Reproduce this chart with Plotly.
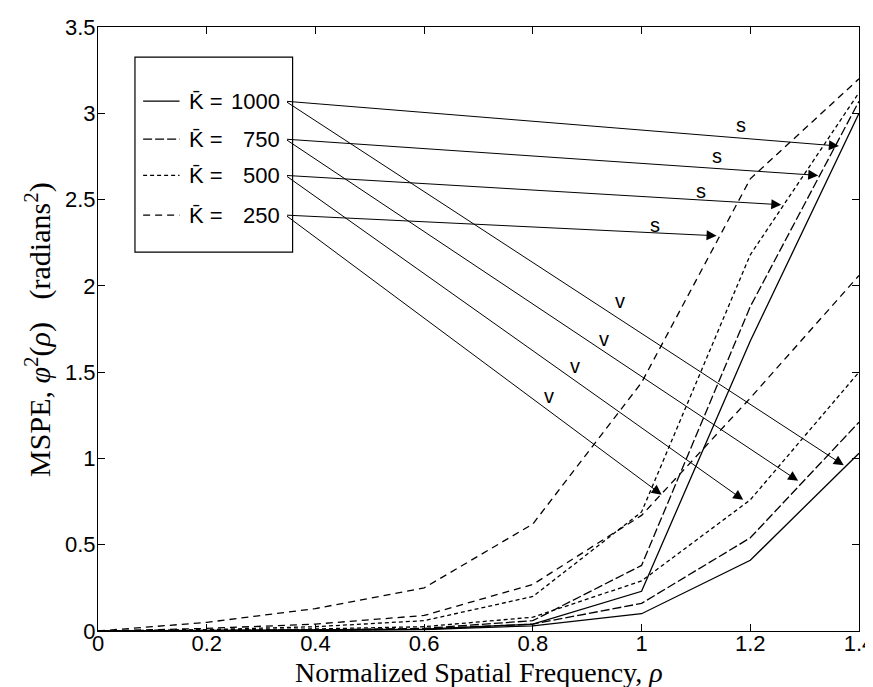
import plotly.graph_objects as go

# normalized spatial frequency samples
rho = [0, 0.2, 0.4, 0.6, 0.8, 1.0, 1.2, 1.4]

k_values = ['1000', '750', '500', '250']

# MSPE curves, "s" family (steep) and "v" family, one per K
s_1000 = [0, 0.002, 0.004, 0.010, 0.04, 0.23, 1.68, 3.00]
s_750 = [0, 0.003, 0.006, 0.015, 0.06, 0.38, 1.88, 3.07]
s_500 = [0, 0.008, 0.025, 0.060, 0.20, 0.69, 2.18, 3.12]
s_250 = [0, 0.050, 0.130, 0.250, 0.62, 1.44, 2.62, 3.20]

v_1000 = [0, 0.001, 0.003, 0.008, 0.03, 0.10, 0.41, 1.03]
v_750 = [0, 0.002, 0.005, 0.012, 0.04, 0.16, 0.54, 1.21]
v_500 = [0, 0.004, 0.012, 0.025, 0.08, 0.29, 0.76, 1.50]
v_250 = [0, 0.015, 0.040, 0.090, 0.27, 0.67, 1.35, 2.06]

# arrow tails (legend side) and heads on the curves
arrow_tail_x = 0.345
arrow_tail_y = [3.07, 2.85, 2.64, 2.41]
s_head_x = [1.363, 1.325, 1.257, 1.138]
s_head_y = [2.81, 2.64, 2.47, 2.29]
v_head_x = [1.372, 1.288, 1.187, 1.037]
v_head_y = [0.96, 0.87, 0.76, 0.79]
s_label_x = [1.182, 1.139, 1.110, 1.024]
s_label_y = [2.93, 2.75, 2.55, 2.35]
v_label_x = [0.960, 0.930, 0.877, 0.829]
v_label_y = [1.91, 1.69, 1.535, 1.36]

x_ticks = [0, 0.2, 0.4, 0.6, 0.8, 1.0, 1.2, 1.4]
x_tick_text = ['0', '0.2', '0.4', '0.6', '0.8', '1', '1.2', '1.4']
y_ticks = [0, 0.5, 1, 1.5, 2, 2.5, 3, 3.5]
y_tick_text = ['0', '0.5', '1', '1.5', '2', '2.5', '3', '3.5']

dashes = ['solid', '9px,3px', '4px,3px', '7px,5px']
s_curves = [s_1000, s_750, s_500, s_250]
v_curves = [v_1000, v_750, v_500, v_250]

SANS = 'Liberation Sans, Arial, Helvetica, sans-serif'
SERIF = 'Liberation Serif, Times New Roman, serif'

fig = go.Figure()
for k, dash, s, v in zip(k_values, dashes, s_curves, v_curves):
    for ys in (s, v):
        fig.add_trace(go.Scatter(
            x=rho, y=ys, mode='lines',
            line=dict(color='black', width=1.3, dash=dash),
            showlegend=False, name=k,
        ))

# legend box drawn by hand, Matlab style
fig.add_shape(type='rect', xref='x', yref='y', x0=0.068, x1=0.358, y0=2.196, y1=3.326,
              line=dict(color='black', width=1.2), fillcolor='white', layer='above')

annotations = []
for i, k in enumerate(k_values):
    yy = arrow_tail_y[i]
    fig.add_shape(type='line', xref='x', yref='y', x0=0.083, x1=0.150, y0=yy, y1=yy,
                  line=dict(color='black', width=1.3, dash=dashes[i]), layer='above')
    annotations.append(dict(x=0.163, y=yy, xref='x', yref='y', text='K\u0304 =',
                            showarrow=False, xanchor='left', yanchor='middle',
                            font=dict(family=SANS, size=22, color='black')))
    annotations.append(dict(x=0.339, y=yy, xref='x', yref='y', text=k,
                            showarrow=False, xanchor='right', yanchor='middle',
                            font=dict(family=SANS, size=22, color='black')))
    for hx, hy in ((s_head_x[i], s_head_y[i]), (v_head_x[i], v_head_y[i])):
        annotations.append(dict(x=hx, y=hy, ax=arrow_tail_x, ay=yy,
                                xref='x', yref='y', axref='x', ayref='y',
                                text='', showarrow=True, arrowhead=2, arrowsize=2,
                                arrowwidth=1, arrowcolor='black'))
    annotations.append(dict(x=s_label_x[i], y=s_label_y[i], xref='x', yref='y', text='s',
                            showarrow=False, font=dict(family=SANS, size=20, color='black')))
    annotations.append(dict(x=v_label_x[i], y=v_label_y[i], xref='x', yref='y', text='v',
                            showarrow=False, font=dict(family=SANS, size=20, color='black')))

# axis titles as annotations so they sit exactly where the Matlab ones do
annotations.append(dict(x=0.5, y=-0.098, xref='paper', yref='paper', xanchor='center',
                        yanchor='bottom', showarrow=False,
                        text='Normalized Spatial Frequency, <i>ρ</i>',
                        font=dict(family=SERIF, size=28, color='black')))
annotations.append(dict(x=-0.079, y=0.5, xref='paper', yref='paper', xanchor='center',
                        yanchor='middle', showarrow=False, textangle=-90,
                        text='MSPE, <i>φ</i><sup>2</sup>(<i>ρ</i>)   (radians<sup>2</sup>)',
                        font=dict(family=SERIF, size=30, color='black')))

axis_style = dict(showline=True, linecolor='black', linewidth=1.2, mirror='ticks',
                  ticks='inside', ticklen=7, tickcolor='black', showgrid=False,
                  zeroline=False, tickfont=dict(family=SANS, size=22, color='black'))

fig.update_xaxes(range=[0, 1.4], tickvals=x_ticks, ticktext=x_tick_text,
                 ticklabelstandoff=-8, **axis_style)
fig.update_yaxes(range=[0, 3.5], tickvals=y_ticks, ticktext=y_tick_text,
                 ticklabelstandoff=-3, **axis_style)

fig.update_layout(
    width=873, height=687,
    margin=dict(l=90, r=22, t=19, b=64, autoexpand=False),
    plot_bgcolor='white', paper_bgcolor='white',
    annotations=annotations,
    showlegend=False,
)

fig.write_html('out.html')
